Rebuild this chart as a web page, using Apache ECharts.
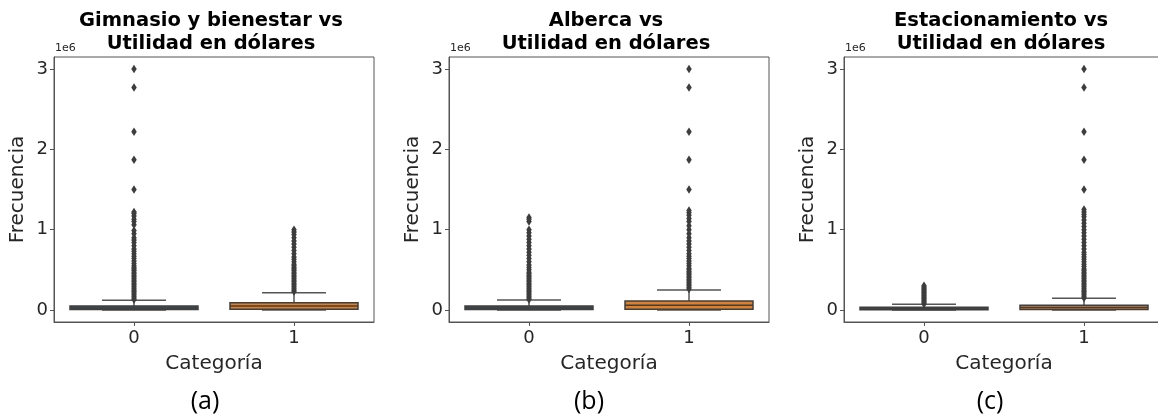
<!DOCTYPE html>
<html>
<head>
<meta charset="utf-8">
<script src="https://cdn.jsdelivr.net/npm/echarts@6/dist/echarts.min.js"></script>
<style>
html,body{margin:0;padding:0;background:#fff;}
#chart{width:1158px;height:417px;}
</style>
</head>
<body>
<div id="chart"></div>
<script>
// ---- Data (values in units of 1e6) ----
const categories = ['0', '1'];
const yTicks = [0, 1, 2, 3];

const titles = [
  'Gimnasio y bienestar vs\nUtilidad en dólares',
  'Alberca vs\nUtilidad en dólares',
  'Estacionamiento vs\nUtilidad en dólares'
];
const panelLabels = ['(a)', '(b)', '(c)'];

// box stats: [lower whisker, Q1, median, Q3, upper whisker]
const statsA0 = [0, 0.005, 0.022, 0.05, 0.122];
const statsA1 = [0, 0.008, 0.05, 0.09, 0.215];
const statsB0 = [0, 0.005, 0.024, 0.05, 0.125];
const statsB1 = [0, 0.01, 0.06, 0.11, 0.25];
const statsC0 = [0, 0.004, 0.015, 0.035, 0.07];
const statsC1 = [0, 0.007, 0.03, 0.06, 0.145];

// outliers
const outA0 = [0.13,0.15,0.17,0.19,0.21,0.23,0.25,0.27,0.29,0.31,0.33,0.35,0.37,0.39,0.41,0.43,0.45,0.47,0.49,0.51,0.53,0.55,0.58,0.61,0.64,0.67,0.7,0.73,0.76,0.8,0.84,0.87,0.9,0.95,0.99,1.06,1.1,1.13,1.17,1.2,1.22,1.5,1.87,2.22,2.77,3.0];
const outA1 = [0.23,0.25,0.27,0.29,0.31,0.33,0.35,0.37,0.39,0.41,0.43,0.45,0.47,0.49,0.51,0.53,0.55,0.57,0.6,0.63,0.66,0.7,0.74,0.78,0.82,0.86,0.9,0.94,0.97,1.0];
const outB0 = [0.13,0.15,0.17,0.19,0.21,0.23,0.25,0.27,0.29,0.31,0.33,0.35,0.37,0.39,0.41,0.43,0.45,0.47,0.5,0.53,0.56,0.6,0.64,0.68,0.72,0.76,0.8,0.84,0.88,0.92,0.96,1.0,1.1,1.13,1.15];
const outB1 = [0.26,0.28,0.3,0.32,0.34,0.36,0.38,0.4,0.42,0.44,0.46,0.48,0.5,0.52,0.55,0.58,0.61,0.64,0.67,0.7,0.74,0.78,0.82,0.86,0.9,0.95,1.0,1.05,1.1,1.14,1.18,1.21,1.24,1.5,1.87,2.22,2.77,3.0];
const outC0 = [0.075,0.09,0.105,0.12,0.135,0.15,0.165,0.18,0.195,0.21,0.225,0.24,0.255,0.27,0.285,0.3];
const outC1 = [0.15,0.17,0.19,0.21,0.23,0.25,0.27,0.29,0.31,0.33,0.35,0.37,0.39,0.41,0.43,0.45,0.47,0.49,0.51,0.54,0.57,0.6,0.63,0.66,0.69,0.72,0.76,0.8,0.84,0.88,0.92,0.96,1.0,1.04,1.08,1.12,1.16,1.19,1.22,1.25,1.5,1.87,2.22,2.77,3.0];

const panelStats = [[statsA0, statsA1], [statsB0, statsB1], [statsC0, statsC1]];
const panelOutliers = [[outA0, outA1], [outB0, outB1], [outC0, outC1]];

// ---- Layout ----
const gridLefts = [54, 449, 844];
const labelCenters = [205, 589, 990];
const gridTop = 57, gridW = 320, gridH = 265;
const boxColors = ['#3c4c58', '#dd7f2b'];
const edgeColor = '#3f3f3f';
const whiskerColor = '#555555';

const chart = echarts.init(document.getElementById('chart'));

const grids = [], xAxes = [], yAxes = [], series = [], graphics = [];
for (let p = 0; p < 3; p++) {
  grids.push({left: gridLefts[p], top: gridTop, width: gridW, height: gridH,
    outerBoundsMode: 'none', containLabel: false,
    show: true, borderColor: '#555', borderWidth: 1, backgroundColor: 'transparent'});
  xAxes.push({
    type: 'category', gridIndex: p, data: categories, boundaryGap: true,
    name: 'Categoría', nameLocation: 'middle', nameGap: 32,
    nameTextStyle: {fontFamily: 'DejaVu Sans', fontSize: 20, color: '#262626'},
    axisLine: {show: true, onZero: false, lineStyle: {color: '#555'}},
    axisTick: {show: true, alignWithLabel: true, length: 4, lineStyle: {color: '#555'}},
    axisLabel: {fontFamily: 'DejaVu Sans', fontSize: 18, color: '#262626', margin: 7},
    splitLine: {show: false}
  });
  yAxes.push({
    type: 'value', gridIndex: p, min: -0.15, max: 3.15,
    name: 'Frecuencia', nameLocation: 'middle', nameGap: 26,
    nameTextStyle: {fontFamily: 'DejaVu Sans', fontSize: 20, color: '#262626'},
    axisLine: {show: true, onZero: false, lineStyle: {color: '#555'}},
    axisTick: {show: true, length: 4, lineStyle: {color: '#555'}, customValues: yTicks},
    axisLabel: {fontFamily: 'DejaVu Sans', fontSize: 18, color: '#262626', margin: 6, customValues: yTicks},
    splitLine: {show: false}
  });
  const boxData = panelStats[p].map((s, i) => [i].concat(s));
  series.push({
    type: 'custom', xAxisIndex: p, yAxisIndex: p,
    data: boxData, encode: {x: 0, y: [1, 2, 3, 4, 5]}, z: 2,
    renderItem: function (params, api) {
      const idx = api.value(0);
      const lo = api.coord([idx, api.value(1)]);
      const q1 = api.coord([idx, api.value(2)]);
      const md = api.coord([idx, api.value(3)]);
      const q3 = api.coord([idx, api.value(4)]);
      const hi = api.coord([idx, api.value(5)]);
      const bw = api.size([1, 0])[0] * 0.8;
      const cx = q1[0];
      const ls = {stroke: whiskerColor, lineWidth: 1.5};
      return {type: 'group', children: [
        {type: 'line', shape: {x1: cx, y1: q3[1], x2: cx, y2: hi[1]}, style: ls},
        {type: 'line', shape: {x1: cx, y1: q1[1], x2: cx, y2: lo[1]}, style: ls},
        {type: 'line', shape: {x1: cx - bw / 4, y1: hi[1], x2: cx + bw / 4, y2: hi[1]}, style: ls},
        {type: 'line', shape: {x1: cx - bw / 4, y1: lo[1], x2: cx + bw / 4, y2: lo[1]}, style: ls},
        {type: 'rect', shape: {x: cx - bw / 2, y: q3[1], width: bw, height: Math.max(q1[1] - q3[1], 1)},
          style: {fill: boxColors[idx], stroke: edgeColor, lineWidth: 1.5}},
        {type: 'line', shape: {x1: cx - bw / 2, y1: md[1], x2: cx + bw / 2, y2: md[1]}, style: {stroke: edgeColor, lineWidth: 1.5}}
      ]};
    }
  });
  const outData = [];
  panelOutliers[p].forEach((arr, i) => arr.forEach(v => outData.push([i, v])));
  series.push({
    type: 'scatter', xAxisIndex: p, yAxisIndex: p, data: outData,
    symbol: 'diamond', symbolSize: [5.5, 8.5], z: 3,
    itemStyle: {color: '#3d3d3d', opacity: 1}
  });
  const cxPanel = gridLefts[p] + gridW / 2;
  graphics.push({type: 'text', x: cxPanel - 3, y: 9,
    style: {text: titles[p], textAlign: 'center', textVerticalAlign: 'top',
      font: 'bold 19.5px "DejaVu Sans"', lineHeight: 23, fill: '#000'}});
  graphics.push({type: 'text', x: gridLefts[p] + 1, y: 54,
    style: {text: '1e6', textAlign: 'left', textVerticalAlign: 'bottom',
      font: '11px "DejaVu Sans"', fill: '#262626'}});
  graphics.push({type: 'text', x: labelCenters[p], y: 402,
    style: {text: panelLabels[p], textAlign: 'center', textVerticalAlign: 'middle',
      font: '25px "Open Sans"', fill: '#000'}});
}

chart.setOption({
  animation: false,
  backgroundColor: '#fff',
  grid: grids, xAxis: xAxes, yAxis: yAxes, series: series, graphic: graphics
});
</script>
</body>
</html>
